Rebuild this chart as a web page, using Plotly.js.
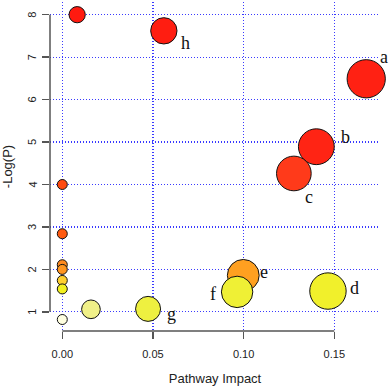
<!DOCTYPE html>
<html>
<head>
<meta charset="utf-8">
<script src="https://cdn.plot.ly/plotly-3.0.1.min.js"></script>
<style>
  body { margin: 0; padding: 0; background: #fff; }
  #chart { width: 392px; height: 387px; }
</style>
</head>
<body>
<div id="chart"></div>
<script>
// pathways, sorted by p value (most significant first)
var impact   = [0.0082, 0.056, 0.1676, 0.1401, 0.1277, 0, 0, 0, 0, 0.0998, 0, 0, 0.1465, 0.0964, 0.0473, 0.0158, 0];
var negLogP  = [8.00, 7.62, 6.49, 4.89, 4.26, 4.00, 2.84, 2.11, 2.00, 1.86, 1.74, 1.54, 1.49, 1.47, 1.07, 1.06, 0.82];
var labels   = ["", "h", "a", "b", "c", "", "", "", "", "e", "", "", "d", "f", "g", "", ""];
var xTicks   = [0, 0.05, 0.10, 0.15];
var xTickTxt = ["0.00", "0.05", "0.10", "0.15"];
var yTicks   = [1, 2, 3, 4, 5, 6, 7, 8];

// pixel offset of each label from its bubble centre
var labelShift = {a: [18, 22], b: [29, 10], c: [15, -24], d: [27, 3],
                  e: [21, 3], f: [-24, -2], g: [23, -5], h: [22, -12]};

// rank by p value -> heat colours
var order = negLogP.map(function (v, i) { return i; })
    .sort(function (a, b) { return negLogP[b] - negLogP[a]; });
var rank = [];
order.forEach(function (idx, r) { rank[idx] = r; });

var heat = [
    [0, "#ff1a10"], [0.1875, "#ff2414"], [0.25, "#ff3a1a"], [0.3125, "#ff4a10"],
    [0.375, "#ff5a10"], [0.4375, "#ff8a20"], [0.5625, "#ffa020"], [0.625, "#ffd030"],
    [0.6875, "#f2f020"], [0.875, "#eef040"], [0.9375, "#f0f088"], [1, "#ffffe0"]
];

// bubble radius grows with impact
var sizes = impact.map(function (v) { return 2 * (5 + 34.5 * Math.sqrt(v)); });

var trace = {
    type: "scatter",
    mode: "markers",
    x: impact,
    y: negLogP,
    marker: {
        size: sizes,
        color: rank,
        cmin: 0,
        cmax: negLogP.length - 1,
        colorscale: heat,
        showscale: false,
        opacity: 1,
        line: { color: "#111", width: 1 }
    },
    hoverinfo: "x+y",
    showlegend: false,
    cliponaxis: false
};

var notes = [];
labels.forEach(function (l, i) {
    if (!l) return;
    notes.push({
        x: impact[i], y: negLogP[i], xref: "x", yref: "y",
        text: l, showarrow: false,
        xshift: labelShift[l][0], yshift: labelShift[l][1],
        font: { family: "Liberation Serif, Times New Roman, serif", size: 18, color: "#111" }
    });
});
// y tick labels, rotated like R's default axis
yTicks.forEach(function (t) {
    notes.push({
        x: 0, xref: "paper", y: t, yref: "y",
        text: String(t), showarrow: false, textangle: -90,
        xanchor: "center", xshift: -18
    });
});

var axisCol = "#555";
var layout = {
    width: 392,
    height: 387,
    margin: { l: 50, r: 12, t: 2, b: 56 },
    paper_bgcolor: "#fff",
    plot_bgcolor: "#fff",
    font: { family: "Liberation Sans, Arial, sans-serif", size: 11, color: "#222" },
    xaxis: {
        range: [-0.00678, 0.1752],
        tickvals: xTicks,
        ticktext: xTickTxt,
        ticks: "outside",
        ticklen: 7,
        tickwidth: 1.3,
        tickcolor: axisCol,
        ticklabelstandoff: 6,
        showline: false,
        zeroline: false,
        showgrid: true,
        gridcolor: "#3a3aff",
        gridwidth: 1.2,
        griddash: "1px,2px",
        title: { text: "Pathway Impact", standoff: 14 }
    },
    yaxis: {
        range: [0.549, 8.299],
        tickvals: yTicks,
        ticks: "outside",
        ticklen: 7,
        tickwidth: 1.3,
        tickcolor: axisCol,
        showticklabels: false,
        showline: false,
        zeroline: false,
        showgrid: true,
        gridcolor: "#3a3aff",
        gridwidth: 1.2,
        griddash: "1px,2px",
        title: { text: "-Log(P)", standoff: 28 }
    },
    annotations: notes,
    shapes: [
        { type: "line", xref: "x", yref: "paper", x0: xTicks[0], x1: xTicks[xTicks.length - 1], y0: 0, y1: 0,
          line: { color: axisCol, width: 1.5 } },
        { type: "line", xref: "paper", yref: "y", x0: 0, x1: 0, y0: yTicks[0], y1: yTicks[yTicks.length - 1],
          line: { color: axisCol, width: 1.5 } }
    ]
};

Plotly.newPlot("chart", [trace], layout, { displayModeBar: false, staticPlot: true });
</script>
</body>
</html>
